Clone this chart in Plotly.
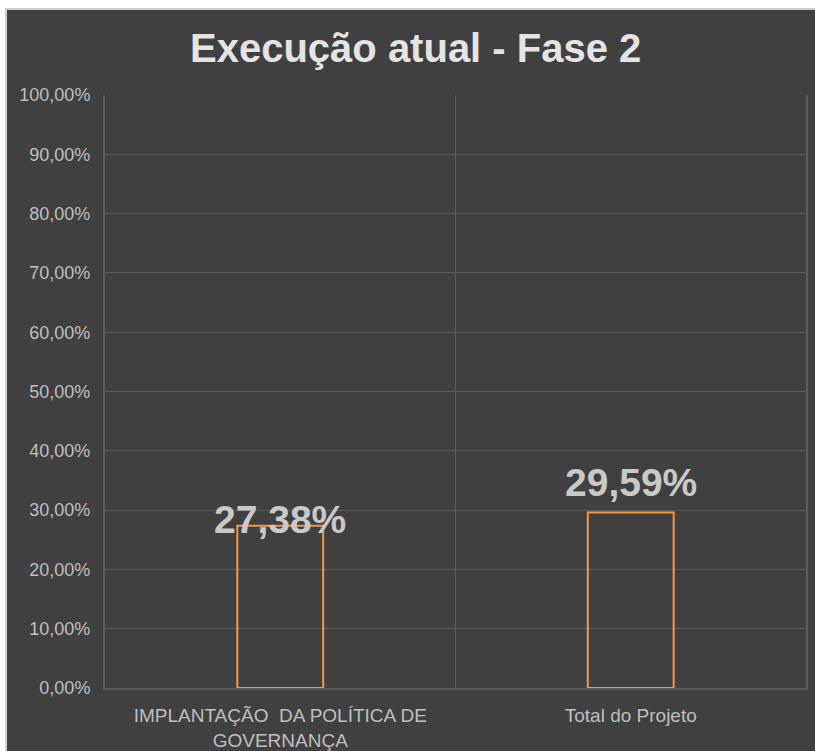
import plotly.graph_objects as go

# Execution progress, phase 2 (fraction of 1)
categories = ["IMPLANTAÇÃO\u00a0 DA POLÍTICA DE GOVERNANÇA", "Total do Projeto"]
tick_labels = ["IMPLANTAÇÃO\u00a0 DA POLÍTICA DE<br>GOVERNANÇA", "Total do Projeto"]
execucao = [0.2738, 0.2959]
y_ticks = [0.0, 0.1, 0.2, 0.3, 0.4, 0.5, 0.6, 0.7, 0.8, 0.9, 1.0]

# Vertical nudge of each value label, in pixels
label_shift = [6, 30]

BG = "#404040"
GRID = "#5a5a5a"
ORANGE = "#f79646"
FONT = "Liberation Sans, Arial, sans-serif"

fig = go.Figure()
fig.add_trace(go.Bar(
    x=categories,
    y=execucao,
    width=0.245,
    marker=dict(color="rgba(0,0,0,0)", line=dict(color=ORANGE, width=2)),
    hoverinfo="x+y",
))

for cat, val, dy in zip(categories, execucao, label_shift):
    fig.add_annotation(
        x=cat, y=val, xref="x", yref="y",
        text=f"{val * 100:.2f}%".replace(".", ","),
        showarrow=False, yanchor="middle", yshift=dy,
        font=dict(family=FONT, size=39, color="#c9c9c9", weight="bold"),
    )

# Dark chart panel with a thin light frame
fig.add_shape(
    type="rect", xref="paper", yref="paper",
    x0=-0.1412, x1=1.03, y0=-0.13, y1=1.145,
    fillcolor=BG, line=dict(color="#cfcfcf", width=2), layer="below",
)

fig.update_layout(
    width=815, height=751,
    margin=dict(l=105, r=9, t=95, b=63, autoexpand=False),
    paper_bgcolor="#ffffff",
    plot_bgcolor="rgba(0,0,0,0)",
    separators=",.",
    showlegend=False,
    title=dict(
        text="Execução atual - Fase 2",
        x=0.510, xref="container", xanchor="center",
        y=1 - 48 / 751, yref="container", yanchor="middle",
        font=dict(family=FONT, size=40, color="#e4e4e4", weight="bold"),
    ),
    bargap=0.75,
)

fig.update_xaxes(
    type="category", automargin=False,
    tickmode="array", tickvals=categories, ticktext=tick_labels,
    tickson="boundaries",
    showgrid=True, gridcolor=GRID, gridwidth=1,
    showline=True, linecolor=GRID, linewidth=2,
    ticks="", ticklabelstandoff=9,
    tickfont=dict(family=FONT, size=19, color="#bfbfbf"),
    range=[-0.5, 1.5],
)

fig.update_yaxes(
    range=[0, 1], automargin=False,
    tickmode="array", tickvals=y_ticks,
    tickformat=".2%",
    showgrid=True, gridcolor=GRID, gridwidth=1,
    showline=True, linecolor=GRID, linewidth=2, mirror=True,
    zeroline=False,
    ticks="", ticklabelstandoff=9,
    tickfont=dict(family=FONT, size=18, color="#bfbfbf"),
)

fig.write_html("out.html")
